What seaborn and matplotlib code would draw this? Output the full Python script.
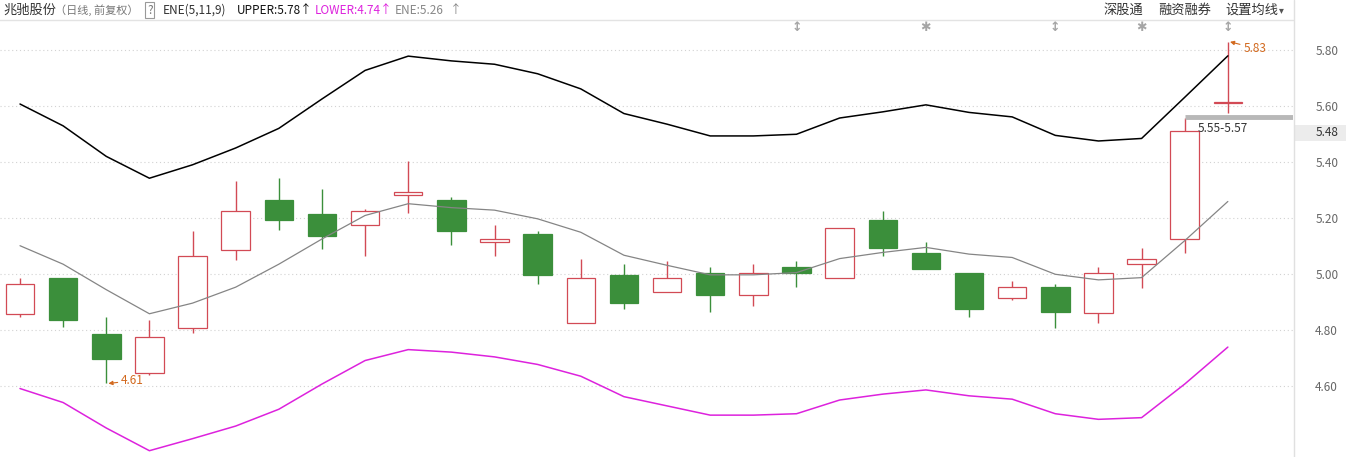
import numpy as np
import pandas as pd
import matplotlib.pyplot as plt
import matplotlib.transforms as mtransforms
from matplotlib.lines import Line2D
from matplotlib.patches import Rectangle
import seaborn as sns

# ----- data -----
opens = [4.857, 4.987, 4.787, 4.646, 4.807, 5.086, 5.265, 5.215, 5.175, 5.282,
         5.265, 5.114, 5.144, 4.825, 4.997, 4.936, 5.005, 4.925, 5.026, 4.986,
         5.194, 5.076, 5.005, 4.914, 4.955, 4.863, 5.036, 5.125, 5.610]
highs = [4.986, 4.987, 4.849, 4.837, 5.155, 5.333, 5.344, 5.305, 5.232, 5.405,
         5.275, 5.175, 5.155, 5.055, 5.036, 5.048, 5.025, 5.036, 5.048, 5.164,
         5.226, 5.114, 5.005, 4.976, 4.964, 5.025, 5.093, 5.557, 5.830]
lows = [4.849, 4.810, 4.610, 4.640, 4.790, 5.050, 5.157, 5.089, 5.066, 5.218,
        5.105, 5.066, 4.966, 4.825, 4.877, 4.936, 4.865, 4.888, 4.956, 4.986,
        5.066, 5.018, 4.849, 4.909, 4.809, 4.827, 4.950, 5.077, 5.577]
closes = [4.964, 4.838, 4.697, 4.775, 5.064, 5.225, 5.195, 5.138, 5.226, 5.293,
          5.156, 5.125, 4.999, 4.986, 4.899, 4.986, 4.927, 5.005, 5.006, 5.164,
          5.095, 5.018, 4.877, 4.955, 4.866, 5.004, 5.054, 5.511, 5.614]

upper = [5.608, 5.530, 5.421, 5.343, 5.391, 5.451, 5.521, 5.626, 5.728, 5.779,
         5.762, 5.750, 5.716, 5.662, 5.574, 5.536, 5.494, 5.494, 5.500, 5.558,
         5.580, 5.605, 5.578, 5.562, 5.496, 5.476, 5.485, 5.632, 5.780]
ene = [5.102, 5.036, 4.945, 4.859, 4.897, 4.954, 5.036, 5.126, 5.210, 5.252,
       5.238, 5.229, 5.198, 5.150, 5.068, 5.032, 4.998, 4.998, 5.006, 5.056,
       5.078, 5.096, 5.072, 5.060, 5.000, 4.980, 4.988, 5.120, 5.260]
lower = [4.592, 4.542, 4.451, 4.370, 4.413, 4.458, 4.518, 4.608, 4.692, 4.731,
         4.722, 4.705, 4.678, 4.636, 4.563, 4.530, 4.497, 4.497, 4.502, 4.551,
         4.572, 4.587, 4.566, 4.554, 4.502, 4.482, 4.488, 4.608, 4.740]

y_ticks = [4.60, 4.80, 5.00, 5.20, 5.40, 5.60, 5.80]
band_low, band_high = 5.55, 5.57
last_label = "5.48"
flag_days = [18, 21, 24, 26, 28]
flag_marks = ["↕", "✱", "↕", "✱", "↕"]

RED = "#d24a55"
GREEN = "#3b8f3b"
ORANGE = "#d2691e"

sns.set_style("white")
plt.rcParams["font.family"] = ["Noto Sans CJK SC", "DejaVu Sans"]

W, H = 1346, 457
fig = plt.figure(figsize=(W / 100, H / 100), dpi=100)
ax = fig.add_axes([0, 0, 1293 / W, (H - 20) / H])

df = pd.DataFrame({"day": np.arange(len(closes)), "open": opens, "high": highs,
                   "low": lows, "close": closes, "upper": upper, "ene": ene, "lower": lower})
rise = df[df["close"] >= df["open"]]
fall = df[df["close"] < df["open"]]

# candles
ax.vlines(rise["day"], rise["low"], rise["high"], color=RED, lw=1, zorder=2)
ax.bar(rise["day"], rise["close"] - rise["open"], bottom=rise["open"], width=0.66,
       facecolor="white", edgecolor=RED, lw=0.9, zorder=3)
ax.vlines(fall["day"], fall["low"], fall["high"], color=GREEN, lw=1, zorder=2)
ax.bar(fall["day"], fall["close"] - fall["open"], bottom=fall["open"], width=0.66,
       facecolor=GREEN, edgecolor=GREEN, lw=0.9, zorder=3)

# ENE bands
sns.lineplot(data=df, x="day", y="upper", color="black", lw=1.1, ax=ax, zorder=4)
sns.lineplot(data=df, x="day", y="ene", color="#858585", lw=0.9, ax=ax, zorder=4)
sns.lineplot(data=df, x="day", y="lower", color="#dd22dd", lw=1.1, ax=ax, zorder=4)

ax.set_xlim(-0.4636, 29.51)
ax.set_ylim(4.3475, 5.908)
ax.set_xticks([])
ax.set_xlabel("")
ax.set_ylabel("")
ax.yaxis.tick_right()
ax.set_yticks(y_ticks)
ax.set_yticklabels([f"{v:.2f}" for v in y_ticks])
ax.tick_params(axis="y", length=0, pad=16, labelsize=8.5, labelcolor="#666666")
ax.grid(axis="y", ls=(0, (1, 2.5)), color="#d2d2d2", lw=0.8)
for s in ["left", "right", "bottom"]:
    ax.spines[s].set_visible(False)
ax.spines["top"].set_color("#e3e3e3")
ax.spines["top"].set_linewidth(1)

# high / low notes
ax.annotate("4.61", xy=(2.05, 4.61), xytext=(9, 2), textcoords="offset points",
            color=ORANGE, fontsize=8.5, ha="left", va="center",
            arrowprops=dict(arrowstyle="-|>", color=ORANGE, lw=0.8, mutation_scale=6,
                            shrinkA=0, shrinkB=0))
ax.annotate("5.83", xy=(28.05, 5.83), xytext=(9.5, -4.5), textcoords="offset points",
            color=ORANGE, fontsize=8.5, ha="left", va="center",
            arrowprops=dict(arrowstyle="-|>", color=ORANGE, lw=0.8, mutation_scale=6,
                            shrinkA=0, shrinkB=0))

# price band on the last candles
band_mid = (band_low + band_high) / 2
ax.hlines(band_mid, 27, 29.51, color="#b8b8b8", lw=3.5, zorder=5)
ax.annotate(f"{band_low:.2f}-{band_high:.2f}", xy=(27.3, band_mid), xytext=(0, -3),
            textcoords="offset points", fontsize=8.5, color="#333333", ha="left", va="top")

# event flags above the chart
flag_tr = mtransforms.blended_transform_factory(ax.transData, ax.transAxes)
for d, m in zip(flag_days, flag_marks):
    ax.text(d, 0.982, m, transform=flag_tr, fontsize=9, color="#a5a5a5",
            ha="center", va="center", family="DejaVu Sans", fontweight="bold")

# right axis line and last-price box
fig.add_artist(Line2D([1293.5 / W] * 2, [0, 1], color="#e0e0e0", lw=1))
lab_tr = mtransforms.blended_transform_factory(fig.transFigure, ax.transData)
fig.add_artist(Rectangle((1295 / W, 5.505 - 0.029), (W - 1295) / W, 0.058,
                         transform=lab_tr, facecolor="#ececec", edgecolor="none"))
fig.text(1316 / W, 5.505, last_label, transform=lab_tr, fontsize=8.5,
         color="#333333", ha="left", va="center")

# header
def head(x, s, color, size=9.5, **kw):
    fig.text(x / W, 1 - 10 / H, s, color=color, fontsize=size, ha="left", va="center", **kw)

head(3, "兆驰股份", "#333333")
head(55, "（日线, 前复权）", "#777777", size=8)
head(147, "?", "#777777", size=8.5,
     bbox=dict(boxstyle="square,pad=0.15", facecolor="white", edgecolor="#999999", lw=0.8))
head(163, "ENE(5,11,9)", "#333333", size=8.5)
head(237, "UPPER:5.78", "#111111", size=8.5)
head(300, "↑", "#111111", size=8.5)
head(315, "LOWER:4.74", "#dd22dd", size=8.5)
head(380, "↑", "#dd22dd", size=8.5)
head(395, "ENE:5.26", "#888888", size=8.5)
head(450, "↑", "#888888", size=8.5)
head(1103, "深股通", "#333333")
head(1158, "融资融券", "#333333")
head(1225, "设置均线", "#333333")
head(1279, "▾", "#555555", size=7, family="DejaVu Sans")

fig.savefig("out.png", dpi=100)
